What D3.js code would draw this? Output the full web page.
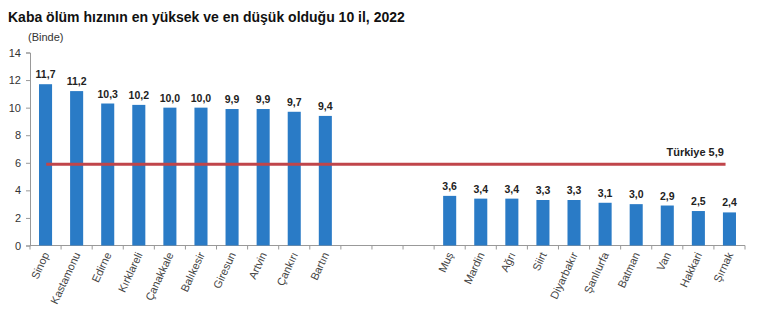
<!DOCTYPE html>
<html><head><meta charset="utf-8">
<script src="https://cdn.jsdelivr.net/npm/d3@7"></script>
<style>body{margin:0;background:#fff}svg{display:block;font-family:"Liberation Sans",Arial,sans-serif}</style>
</head><body><svg id="c" width="770" height="327"></svg>
<script>
const categories = ["Sinop","Kastamonu","Edirne","Kırklareli","Çanakkale","Balıkesir","Giresun","Artvin","Çankırı","Bartın","","","","Muş","Mardin","Ağrı","Siirt","Diyarbakır","Şanlıurfa","Batman","Van","Hakkari","Şırnak"];
const values = [11.7,11.2,10.3,10.2,10.0,10.0,9.9,9.9,9.7,9.4,null,null,null,3.6,3.4,3.4,3.3,3.3,3.1,3.0,2.9,2.5,2.4];
const yTicks = [0,2,4,6,8,10,12,14];
const turkiye = 5.9;
const title = "Kaba ölüm hızının en yüksek ve en düşük olduğu 10 il, 2022";
const unit = "(Binde)";

const svg = d3.select("#c");
const m = {l:30, r:25, t:52.5, b:81.5};
const W = 770, H = 327;
const x = d3.scaleBand().domain(d3.range(categories.length)).range([m.l, W-m.r]).paddingInner(0.58).paddingOuter(0.29);
const y = d3.scaleLinear().domain([0,14]).range([H-m.b, m.t]);
const fmt = v => v.toFixed(1).replace(".", ",");

svg.append("text").attr("x",8).attr("y",22).attr("font-size",14).attr("font-weight","bold").attr("fill","#111").text(title);
svg.append("text").attr("x",28).attr("y",41).attr("font-size",11).attr("fill","#333").text(unit);

const ya = svg.append("g").attr("transform",`translate(${m.l},0)`)
  .call(d3.axisLeft(y).tickValues(yTicks).tickSize(4).tickPadding(5).tickFormat(d3.format("d")));
ya.select(".domain").attr("stroke","#999");
ya.selectAll(".tick line").attr("stroke","#999");
ya.selectAll("text").attr("font-size",11).attr("fill","#333").attr("font-family","Liberation Sans,Arial,sans-serif");

const xa = svg.append("g").attr("transform",`translate(0,${y(0)})`);
xa.append("line").attr("x1",m.l).attr("x2",W-m.r).attr("stroke","#999");
xa.selectAll("line.tk").data(d3.range(categories.length+1)).join("line").attr("class","tk")
  .attr("x1",i=>m.l+i*(W-m.l-m.r)/categories.length).attr("x2",i=>m.l+i*(W-m.l-m.r)/categories.length)
  .attr("y1",0).attr("y2",4).attr("stroke","#999");

const idx = d3.range(categories.length).filter(i=>values[i]!==null);
svg.selectAll("rect.bar").data(idx).join("rect").attr("class","bar")
  .attr("x",i=>x(i)).attr("width",x.bandwidth())
  .attr("y",i=>y(values[i])).attr("height",i=>y(0)-y(values[i])).attr("fill","#2a7bc6");

svg.selectAll("text.val").data(idx).join("text").attr("class","val")
  .attr("x",i=>x(i)+x.bandwidth()/2).attr("y",i=>y(values[i])-6)
  .attr("text-anchor","middle").attr("font-size",10.5).attr("font-weight","bold").attr("fill","#222")
  .text(i=>fmt(values[i]));

svg.selectAll("text.cat").data(idx).join("text").attr("class","cat")
  .attr("transform",i=>`translate(${x(i)+x.bandwidth()/2+4},${y(0)+9}) rotate(-65)`)
  .attr("text-anchor","end").attr("font-size",11).attr("fill","#444")
  .text(i=>categories[i]);

const first = idx[0], last = idx[idx.length-1];
svg.append("line").attr("x1",x(first)+x.bandwidth()*0.55).attr("x2",x(last)+x.bandwidth()*0.2)
  .attr("y1",y(turkiye)).attr("y2",y(turkiye)).attr("stroke","#c0454a").attr("stroke-width",3);
svg.append("text").attr("x",x(last)+1).attr("y",y(turkiye)-8).attr("text-anchor","end")
  .attr("font-size",11).attr("font-weight","bold").attr("fill","#222").text("Türkiye  " + fmt(turkiye));
</script></body></html>
